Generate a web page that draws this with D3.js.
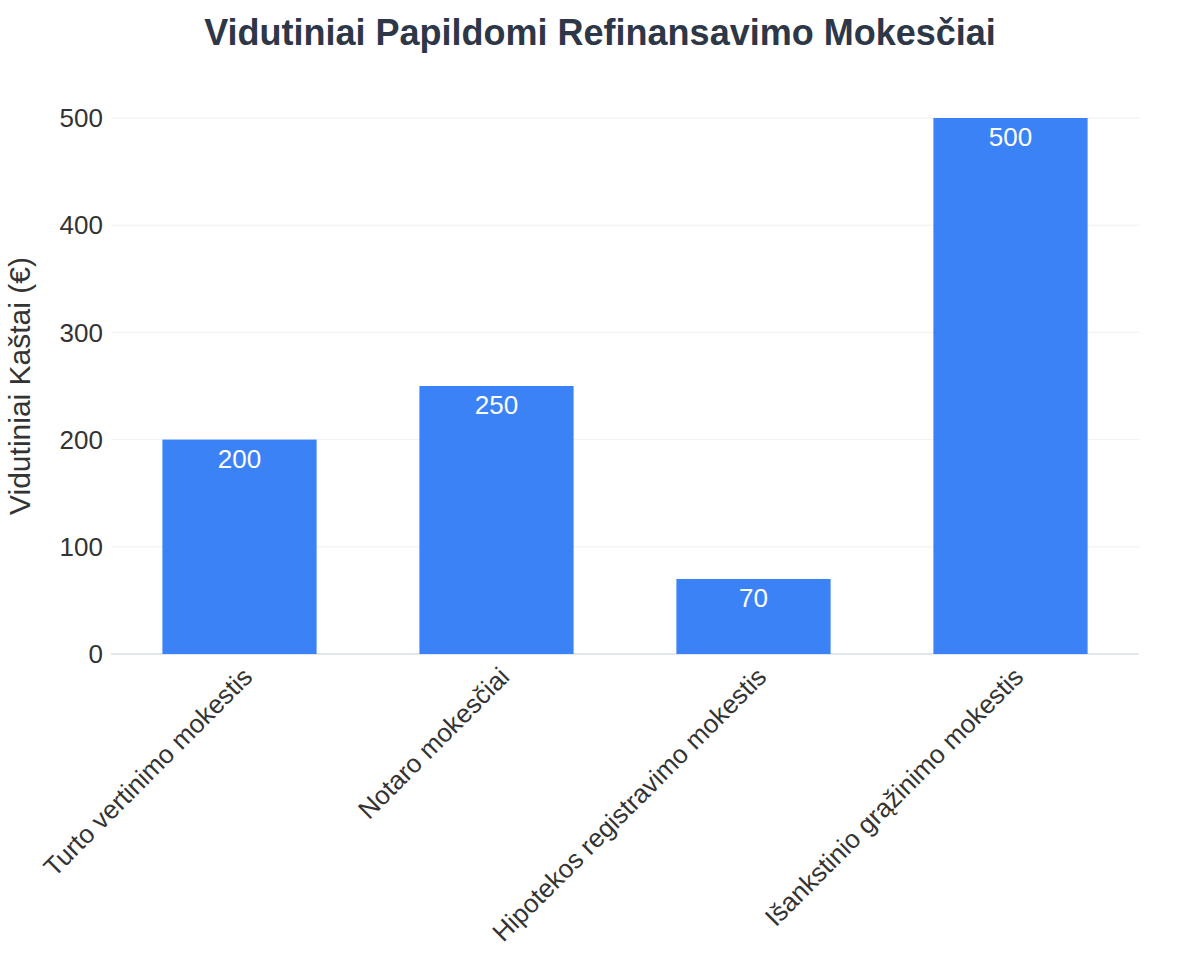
<!DOCTYPE html>
<html>
<head>
<meta charset="utf-8">
<script src="https://cdn.jsdelivr.net/npm/d3@7"></script>
<style>
  body { margin: 0; background: #fff; font-family: "Liberation Sans", Arial, sans-serif; }
</style>
</head>
<body>
<div id="chart"></div>
<script>
// Chart data
const categories = ['Turto vertinimo mokestis', 'Notaro mokesčiai', 'Hipotekos registravimo mokestis', 'Išankstinio grąžinimo mokestis'];
const costs = [200, 250, 70, 500];
const yTicks = [0, 100, 200, 300, 400, 500];

const width = 1200, height = 975;
const margin = { top: 118, right: 61, bottom: 321, left: 111 };
const innerW = width - margin.left - margin.right;
const innerH = height - margin.top - margin.bottom;

const svg = d3.select('#chart').append('svg')
    .attr('width', width)
    .attr('height', height);

// Title
svg.append('text')
    .attr('x', width / 2)
    .attr('y', 45)
    .attr('text-anchor', 'middle')
    .attr('font-size', '36px')
    .attr('font-weight', 'bold')
    .attr('fill', '#2d3748')
    .text('Vidutiniai Papildomi Refinansavimo Mokesčiai');

const g = svg.append('g').attr('transform', `translate(${margin.left},${margin.top})`);

const x = d3.scaleBand().domain(categories).range([0, innerW]).paddingInner(0.4).paddingOuter(0.2);
const y = d3.scaleLinear().domain([0, 500]).range([innerH, 0]);

// Gridlines
g.append('g').selectAll('line')
    .data(yTicks)
    .enter().append('line')
    .attr('x1', 0).attr('x2', innerW)
    .attr('y1', d => y(d)).attr('y2', d => y(d))
    .attr('stroke', d => d === 0 ? '#e2e6ee' : '#eef1f6')
    .attr('stroke-width', d => d === 0 ? 2 : 1);

// Y axis labels
g.append('g').selectAll('text')
    .data(yTicks)
    .enter().append('text')
    .attr('x', -8)
    .attr('y', d => y(d))
    .attr('dy', '0.35em')
    .attr('text-anchor', 'end')
    .attr('font-size', '26px')
    .attr('fill', '#333')
    .text(d => d);

// Y axis title
svg.append('text')
    .attr('transform', `translate(30,${margin.top + innerH / 2}) rotate(-90)`)
    .attr('text-anchor', 'middle')
    .attr('font-size', '30px')
    .attr('fill', '#333')
    .text('Vidutiniai Kaštai (€)');

// Bars
g.append('g').selectAll('rect')
    .data(categories)
    .enter().append('rect')
    .attr('x', d => x(d))
    .attr('y', (d, i) => y(costs[i]))
    .attr('width', x.bandwidth())
    .attr('height', (d, i) => innerH - y(costs[i]))
    .attr('fill', '#3b82f6');

// Value labels
g.append('g').selectAll('text')
    .data(categories)
    .enter().append('text')
    .attr('x', d => x(d) + x.bandwidth() / 2)
    .attr('y', (d, i) => y(costs[i]) + 28)
    .attr('text-anchor', 'middle')
    .attr('font-size', '26px')
    .attr('fill', '#fff')
    .text((d, i) => costs[i]);

// X axis labels
g.append('g').selectAll('text')
    .data(categories)
    .enter().append('text')
    .attr('transform', d => `translate(${x(d) + x.bandwidth() / 2 + 8},${innerH + 18}) rotate(-45)`)
    .attr('text-anchor', 'end')
    .attr('dy', '0.35em')
    .attr('font-size', '26px')
    .attr('fill', '#333')
    .text(d => d);
</script>
</body>
</html>
